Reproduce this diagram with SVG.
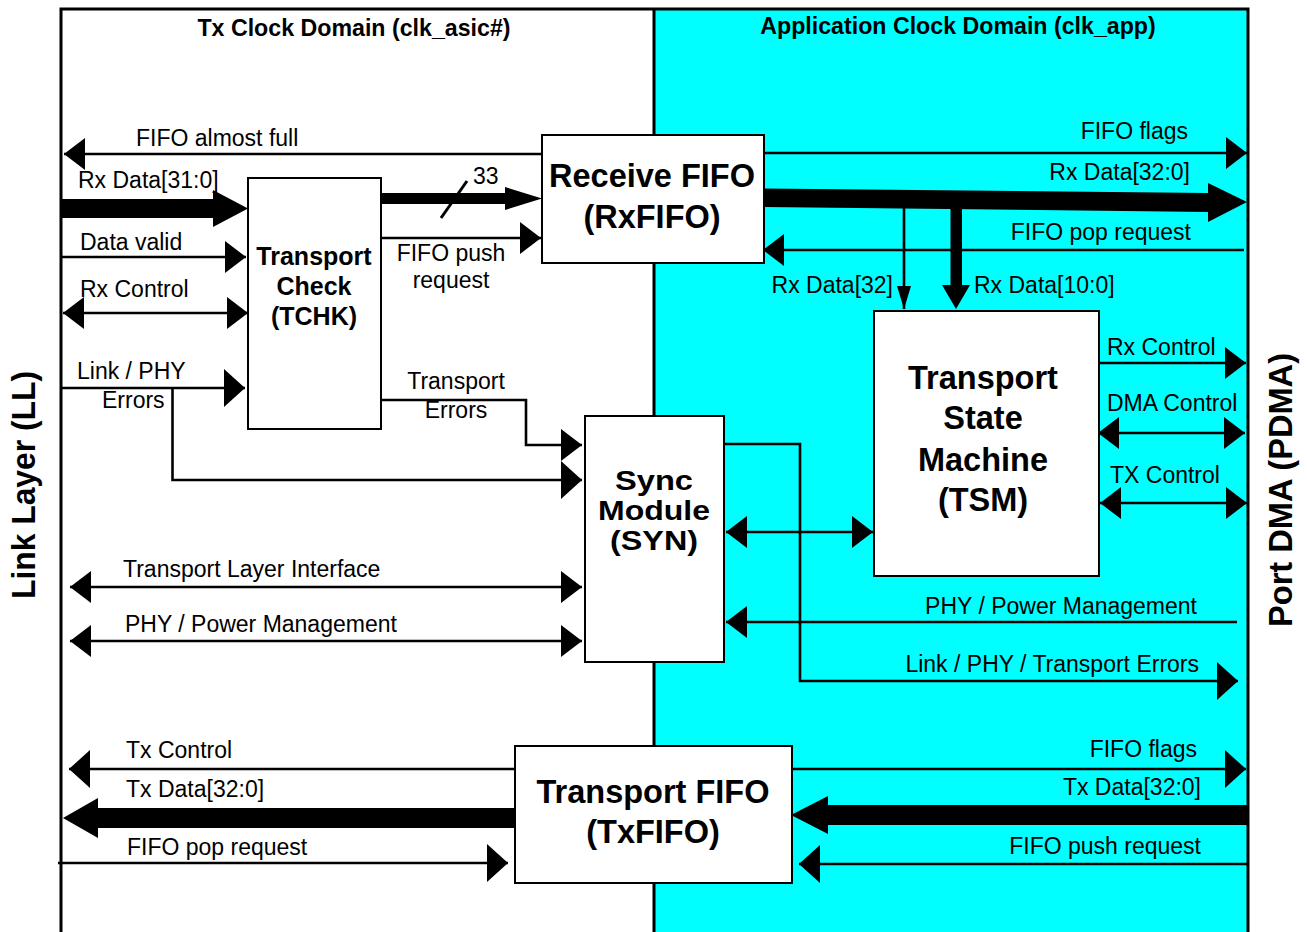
<svg xmlns="http://www.w3.org/2000/svg" width="1307" height="932" viewBox="0 0 1307 932">
<style>
text{font-family:"Liberation Sans",Arial,Helvetica,sans-serif;fill:#000}
.lb{font-size:23px}
.tt{font-size:23.2px;font-weight:bold}
.nb{font-size:32.5px;font-weight:bold;text-anchor:middle}
.sy{font-size:28px;font-weight:bold;text-anchor:middle}
.ns{font-size:25px;font-weight:bold;text-anchor:middle}
.m{text-anchor:middle}
.e{text-anchor:end}
.box{fill:#fff;stroke:#000;stroke-width:2}
.w{fill:none;stroke:#000;stroke-width:2.6}
.sa{marker-end:url(#a)}
.sb{marker-end:url(#b)}
.da{marker-start:url(#a);marker-end:url(#a)}
.fat{fill:#000;stroke:none}
</style>
<defs>
<marker id="a" markerUnits="userSpaceOnUse" markerWidth="22" markerHeight="34" refX="21" refY="16" orient="auto-start-reverse" overflow="visible">
<path d="M0,0 L21,16 L0,32 Z" fill="#000"/>
</marker>
<marker id="b" markerUnits="userSpaceOnUse" markerWidth="22" markerHeight="40" refX="21" refY="19" orient="auto-start-reverse" overflow="visible">
<path d="M0,0 L21,19 L0,38 Z" fill="#000"/>
</marker>
<marker id="n" markerUnits="userSpaceOnUse" markerWidth="24" markerHeight="16" refX="23" refY="7" orient="auto" overflow="visible">
<path d="M0,0 L23,7 L0,14 Z" fill="#000"/>
</marker>
</defs>

<g id="background">
<rect x="61" y="9" width="593" height="923" fill="#fff"/>
<rect x="654" y="9" width="594" height="923" fill="#00ffff"/>
<path d="M61,932 L61,9 L1248,9 L1248,932" fill="none" stroke="#000" stroke-width="3"/>
<line x1="654" y1="9" x2="654" y2="932" stroke="#000" stroke-width="3"/>
<text class="tt m" x="354" y="36">Tx Clock Domain (clk_asic#)</text>
<text class="tt m" x="958" y="34">Application Clock Domain (clk_app)</text>
<text class="nb" transform="translate(35,485) rotate(-90)" textLength="228" lengthAdjust="spacingAndGlyphs">Link Layer (LL)</text>
<text class="nb" transform="translate(1292,490) rotate(-90)" textLength="274" lengthAdjust="spacingAndGlyphs">Port DMA (PDMA)</text>
</g>

<g id="connectors">
<!-- left side into TCHK / RxFIFO -->
<line class="w sa" x1="542" y1="154" x2="64" y2="154"/>
<polygon class="fat" points="61,199 213,199 213,190 248,208.5 213,227 213,218 61,218"/>
<line class="w sa" x1="61" y1="257" x2="246" y2="257"/>
<line class="w da" x1="63" y1="313" x2="248" y2="313"/>
<line class="w sb" x1="61" y1="388" x2="245" y2="388"/>
<polyline class="w sb" points="172.5,388 172.5,480 582,480"/>
<polygon class="fat" points="381,193 505,193 505,187 542,198.5 505,210 505,204 381,204"/>
<line x1="441" y1="218" x2="467" y2="181" stroke="#000" stroke-width="3"/>
<line class="w sa" x1="381" y1="238" x2="541" y2="238"/>
<polyline class="w sa" points="381,400 526,400 526,445 582,445"/>
<line class="w da" x1="70" y1="587" x2="582" y2="587"/>
<line class="w da" x1="70" y1="641" x2="582" y2="641"/>
<!-- TxFIFO left -->
<line class="w sb" x1="515" y1="769" x2="69" y2="769"/>
<polygon class="fat" points="515,808 98,808 98,798 63,818 98,838 98,828 515,828"/>
<line class="w sb" x1="58" y1="863" x2="508" y2="863"/>
<!-- RxFIFO right -->
<line class="w sa" x1="764" y1="153" x2="1247" y2="153"/>
<polygon class="fat" points="764,188.5 1208,193 1208,183 1247,202 1208,222 1208,212 764,207"/>
<line class="w sa" x1="1244" y1="250" x2="763" y2="250"/>
<line x1="904" y1="196" x2="904" y2="309" stroke="#000" stroke-width="2.6" marker-end="url(#n)"/>
<polygon class="fat" points="950.5,200 962,200 962,285 970,285 956,309 942,285 950.5,285"/>
<!-- TSM right -->
<line class="w sa" x1="1099" y1="363" x2="1246" y2="363"/>
<line class="w da" x1="1098" y1="433" x2="1245" y2="433"/>
<line class="w da" x1="1100" y1="503" x2="1247" y2="503"/>
<!-- SYN / TSM -->
<line class="w da" x1="726" y1="532" x2="873" y2="532"/>
<polyline class="w sb" points="724,444 800,444 800,681 1238,681"/>
<line class="w sa" x1="1237" y1="622" x2="726" y2="622"/>
<!-- TxFIFO right -->
<line class="w sb" x1="792" y1="769" x2="1246" y2="769"/>
<polygon class="fat" points="1248,805 828,805 828,796 791,815 828,834 828,825 1248,825"/>
<line class="w sb" x1="1247" y1="864" x2="799" y2="864"/>

<!-- labels -->
<text class="lb" x="136" y="146">FIFO almost full</text>
<text class="lb" x="78" y="188">Rx Data[31:0]</text>
<text class="lb" x="80" y="250">Data valid</text>
<text class="lb" x="80" y="297">Rx Control</text>
<text class="lb" x="77" y="379">Link / PHY</text>
<text class="lb" x="102" y="408">Errors</text>
<text class="lb" x="473" y="184">33</text>
<text class="lb m" x="451" y="261">FIFO push</text>
<text class="lb m" x="451" y="288">request</text>
<text class="lb m" x="456" y="389">Transport</text>
<text class="lb m" x="456" y="418">Errors</text>
<text class="lb" x="123" y="577">Transport Layer Interface</text>
<text class="lb" x="125" y="632">PHY / Power Management</text>
<text class="lb" x="126" y="758">Tx Control</text>
<text class="lb" x="126" y="797">Tx Data[32:0]</text>
<text class="lb" x="127" y="855">FIFO pop request</text>
<text class="lb e" x="1188" y="139">FIFO flags</text>
<text class="lb e" x="1190" y="180">Rx Data[32:0]</text>
<text class="lb e" x="1191" y="240">FIFO pop request</text>
<text class="lb e" x="893" y="293">Rx Data[32]</text>
<text class="lb" x="974" y="293">Rx Data[10:0]</text>
<text class="lb" x="1107" y="355">Rx Control</text>
<text class="lb" x="1107" y="411">DMA Control</text>
<text class="lb" x="1110" y="483">TX Control</text>
<text class="lb e" x="1197" y="614">PHY / Power Management</text>
<text class="lb e" x="1199" y="672">Link / PHY / Transport Errors</text>
<text class="lb e" x="1197" y="757">FIFO flags</text>
<text class="lb e" x="1201" y="795">Tx Data[32:0]</text>
<text class="lb e" x="1201" y="854">FIFO push request</text>
</g>

<g id="rxfifo">
<rect class="box" x="542" y="135" width="222" height="128"/>
<text class="nb" x="652" y="187">Receive FIFO</text>
<text class="nb" x="652" y="228">(RxFIFO)</text>
</g>

<g id="tchk">
<rect class="box" x="248" y="178" width="133" height="251"/>
<text class="ns" x="314" y="265">Transport</text>
<text class="ns" x="314" y="295">Check</text>
<text class="ns" x="314" y="325">(TCHK)</text>
</g>

<g id="syn">
<rect class="box" x="585" y="416" width="139" height="246"/>
<text class="sy" x="654" y="490" textLength="78" lengthAdjust="spacingAndGlyphs">Sync</text>
<text class="sy" x="654" y="520" textLength="112" lengthAdjust="spacingAndGlyphs">Module</text>
<text class="sy" x="654" y="550" textLength="88" lengthAdjust="spacingAndGlyphs">(SYN)</text>
</g>

<g id="tsm">
<rect class="box" x="874" y="311" width="225" height="265"/>
<text class="nb" x="983" y="389">Transport</text>
<text class="nb" x="983" y="429">State</text>
<text class="nb" x="983" y="471">Machine</text>
<text class="nb" x="983" y="511">(TSM)</text>
</g>

<g id="txfifo">
<rect class="box" x="515" y="746" width="277" height="137"/>
<text class="nb" x="653" y="803">Transport FIFO</text>
<text class="nb" x="653" y="843">(TxFIFO)</text>
</g>
</svg>
